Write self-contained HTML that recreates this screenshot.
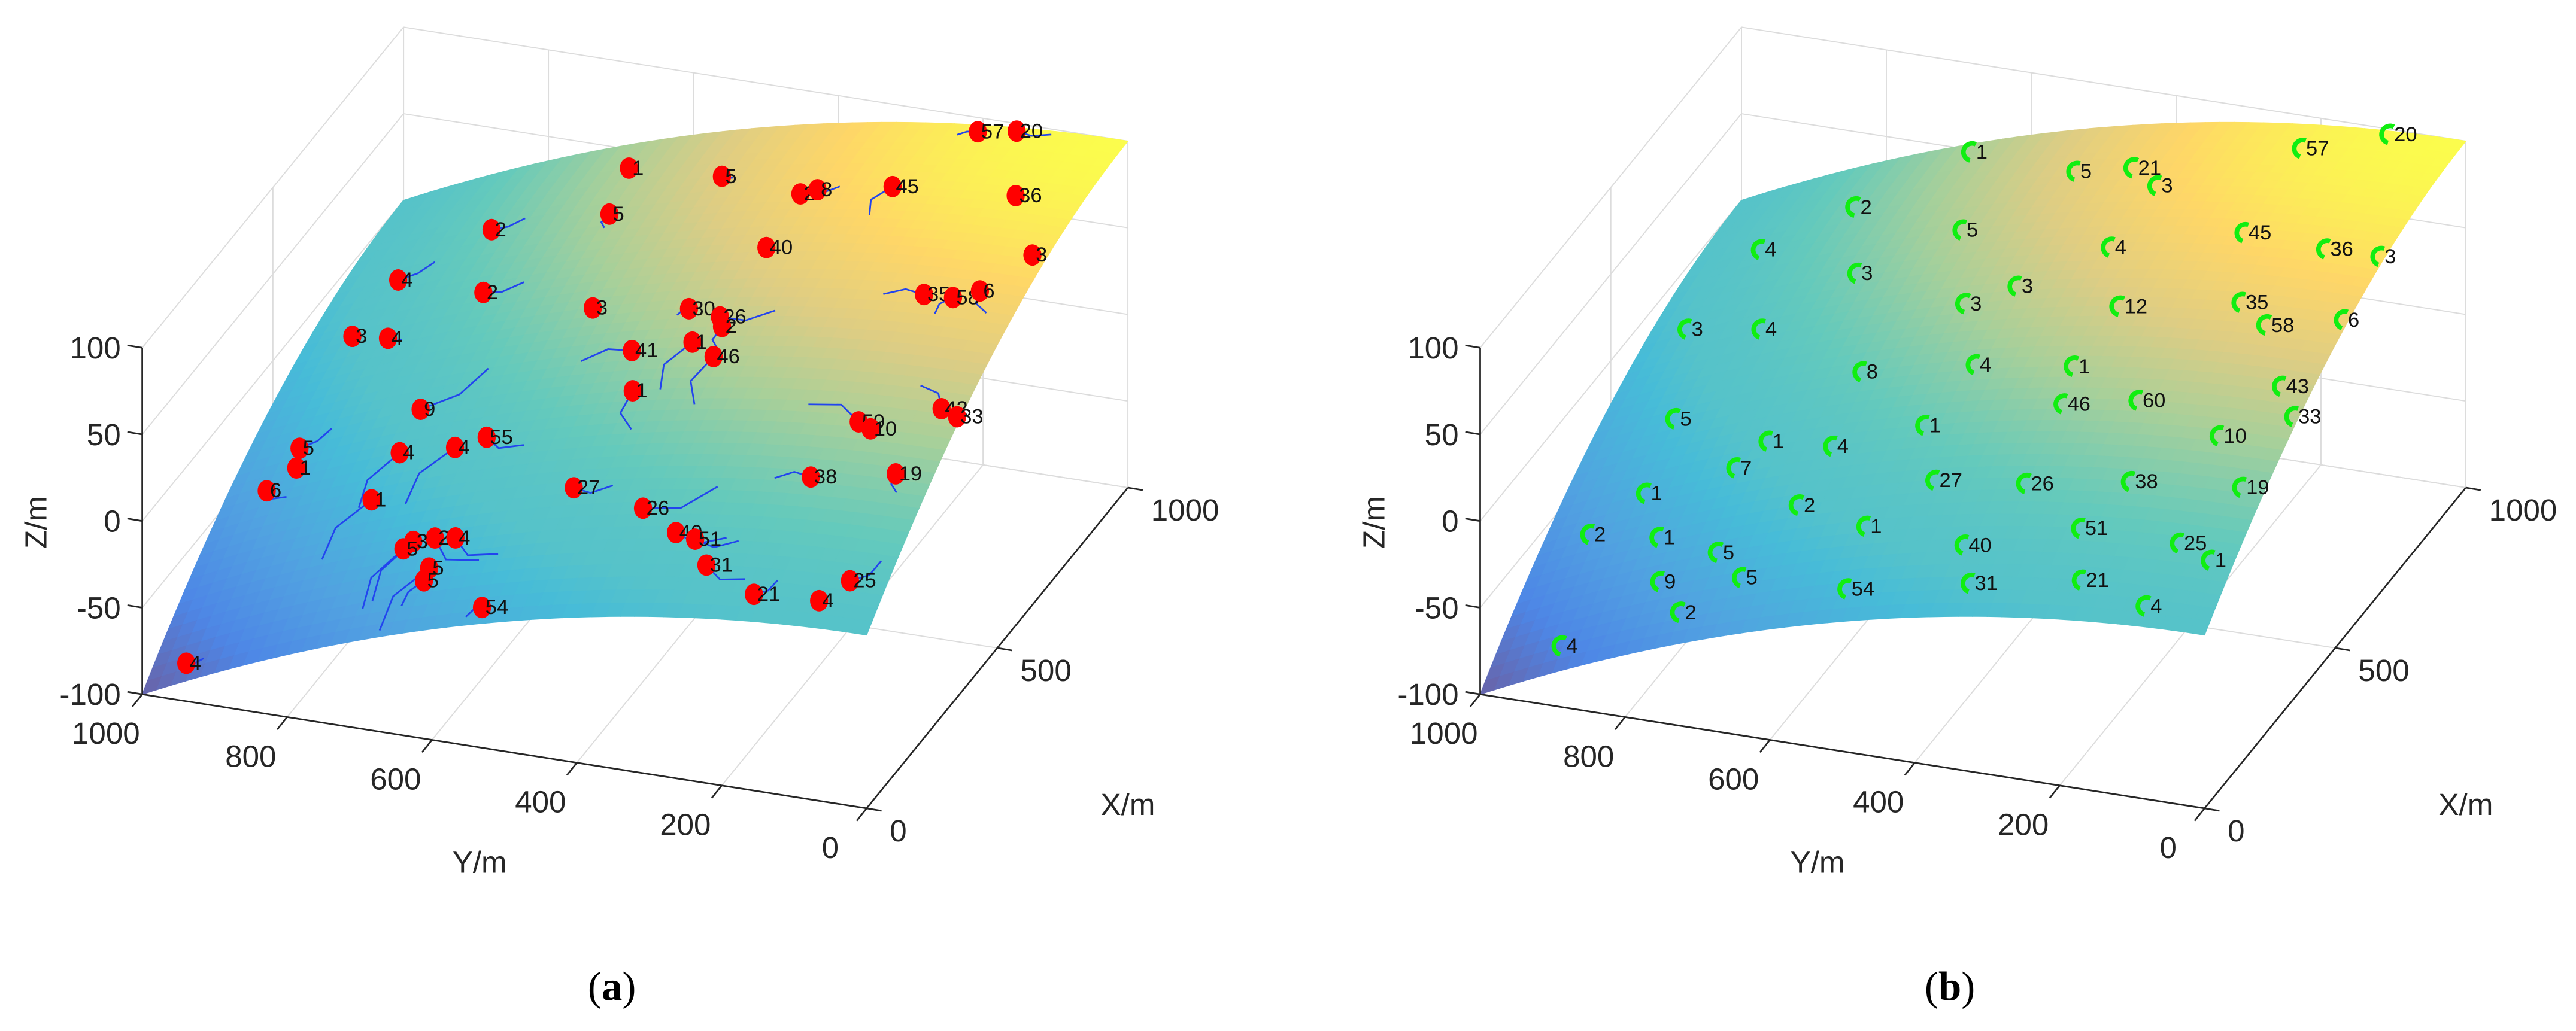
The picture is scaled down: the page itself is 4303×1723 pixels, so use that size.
<!DOCTYPE html>
<html><head><meta charset="utf-8">
<style>
html,body{margin:0;padding:0;background:#fff;overflow:hidden;width:4303px;height:1723px;}
svg{display:block;}
text{font-family:"Liberation Sans",Arial,sans-serif;}
</style></head>
<body>
<svg id="fig" xmlns="http://www.w3.org/2000/svg" width="4303" height="1723" viewBox="2 2 1557.6 623.7">
<rect x="0" y="0" width="1600" height="700" fill="#fff"/>
<g id="panelA"></g>
<g id="panelB"></g>
<text x="372" y="607" text-anchor="middle" font-size="25" style="font-family:'Liberation Serif',serif">(<tspan font-weight="bold">a</tspan>)</text>
<text x="1181" y="607" text-anchor="middle" font-size="25" style="font-family:'Liberation Serif',serif">(<tspan font-weight="bold">b</tspan>)</text>
</svg>
<script>
// axis tick values
const xTicks = [0, 500, 1000];
const yTicks = [0, 200, 400, 600, 800, 1000];
const zTicks = [-100, -50, 0, 50, 100];
// panel (a) node positions (m) and labels
const aX = [920,860,800,810,820,980,990,820,810,790,670,690,730,640,560,540,520,500,580,580,600,610,580,460,470,440,380,400,380,340,310,320,310,320,330,320,370,360,240,210,230,250,150,150,140,145,170,130,120,100,80,80,40,75,40,25,30];
const aY = [660,510,380,360,260,200,150,90,810,640,380,20,910,760,580,440,390,380,130,90,60,930,870,490,410,370,460,760,920,910,940,760,680,640,130,110,30,5,770,480,160,50,650,680,690,620,370,310,280,640,640,250,170,50,80,540,950];
const aLabels = ["1","5","2","8","45","57","20","36","2","5","40","3","4","2","3","30","26","2","35","58","6","3","4","41","1","46","1","9","5","1","6","4","4","55","59","10","42","33","1","27","38","19","2","3","5","4","26","40","51","5","5","31","21","25","4","54","4"];
// trajectory offsets (m) for panel (a)
const aTailDX = [0,-10,30,0,-120,-20,0,-40,20,-60,0,0,40,10,0,-20,20,-80,-10,-60,-70,0,-20,-20,-150,-150,-120,100,40,0,-40,-150,-150,-40,40,-20,60,0,-150,0,-10,-50,-80,-150,-150,-60,60,-10,0,-150,-60,-30,40,60,0,-20,0];
const aTailDY = [0,-30,-80,0,10,40,-80,-10,-70,-10,0,0,-70,-90,0,20,-120,-20,90,20,-40,0,-40,110,20,-10,-40,-120,-60,0,-60,40,60,-100,130,-10,70,0,60,-90,80,-20,-130,40,40,-120,-150,-120,-100,60,30,-100,-40,-50,0,30,-40];
// panel (b) node positions (m) and labels
const bX = [970,870,870,820,930,990,860,740,670,710,690,800,670,560,590,540,560,520,550,690,630,580,440,430,420,350,360,410,420,330,290,300,320,310,360,280,200,220,210,220,230,230,190,140,150,110,140,130,110,110,90,50,50,60,30,50,40];
const bY = [670,490,410,360,200,100,790,600,370,200,80,900,720,530,470,310,150,100,5,5,940,820,630,470,330,320,220,40,880,720,750,620,500,90,5,870,630,450,320,180,30,930,820,720,520,370,220,80,30,790,670,510,340,190,90,740,900];
const bLabels = ["1","5","21","3","57","20","2","5","4","45","36","4","3","3","3","12","35","58","6","3","3","4","8","4","1","46","60","43","5","1","7","4","1","10","33","1","2","27","26","38","19","2","1","5","1","40","51","25","1","9","5","54","31","21","4","2","4"];

const NS = "http://www.w3.org/2000/svg";
const O = [526, 491], EX = [158, -194], EY = [-438, -69], EZ = [0, -209.6];
const TAIL_SCALE = 0.6;
function surfZ(x, y) { const u = x / 1000, v = y / 1000; return 100 * (1 - (1 - u) * (1 - u)) - 100 * v * v; }
function proj(x, y, z, dx) {
  const u = x / 1000, v = y / 1000, w = (z + 100) / 200;
  return [O[0] + dx + u * EX[0] + v * EY[0] + w * EZ[0], O[1] + u * EX[1] + v * EY[1] + w * EZ[1]];
}
const parula = [[53,42,135],[15,92,221],[20,129,214],[6,164,202],[46,183,164],[135,191,119],[209,187,89],[254,200,50],[249,251,14]];
function zToT(z) {
  if (z <= 0) return 0.44 + 0.44 * z / 100;
  return 0.44 + 0.56 * Math.pow(z / 100, 1.7);
}
function cmap(t) {
  t = Math.max(0, Math.min(1, t)) * 8; const i = Math.min(7, Math.floor(t)), f = t - i;
  const c = parula[i].map((a, k) => a + (parula[i + 1][k] - a) * f);
  const m = 0.26; return "rgb(" + c.map(a => Math.round(a * (1 - m) + 255 * m)).join(",") + ")";
}
function mk(tag, attrs, parent) { const e = document.createElementNS(NS, tag); for (const k in attrs) e.setAttribute(k, attrs[k]); parent.appendChild(e); return e; }
function line(p, q, stroke, sw, parent, name) {
  const e = mk("line", {x1: p[0], y1: p[1], x2: q[0], y2: q[1], stroke: stroke, "stroke-width": sw}, parent);
  
  
  return e;
}
function txt(s, x, y, size, anchor, parent, name, extra) {
  const e = mk("text", {x: x, y: y, "font-size": size, "text-anchor": anchor, fill: "#262626"}, parent);
  if (extra) for (const k in extra) e.setAttribute(k, extra[k]);
  e.textContent = s;
  
  
  return e;
}

function drawPanel(g, dx, which) {
  const grid = "#dcdcdc";
  yTicks.forEach(y => line(proj(0, y, -100, dx), proj(1000, y, -100, dx), grid, 0.7, g, "floor-grid-y"));
  xTicks.forEach(x => line(proj(x, 0, -100, dx), proj(x, 1000, -100, dx), grid, 0.7, g, "floor-grid-x"));
  yTicks.forEach(y => line(proj(1000, y, -100, dx), proj(1000, y, 100, dx), grid, 0.7, g, "wall-grid-y"));
  zTicks.forEach(z => line(proj(1000, 0, z, dx), proj(1000, 1000, z, dx), grid, 0.7, g, "wall-grid-z"));
  xTicks.forEach(x => line(proj(x, 1000, -100, dx), proj(x, 1000, 100, dx), grid, 0.7, g, "side-grid-x"));
  zTicks.forEach(z => line(proj(0, 1000, z, dx), proj(1000, 1000, z, dx), grid, 0.7, g, "side-grid-z"));

  const sg = mk("g", {}, g);
  
  
  const N = 50;
  for (let i = N - 1; i >= 0; i--) {
    for (let j = N - 1; j >= 0; j--) {
      const x0 = i * 1000 / N, x1 = (i + 1) * 1000 / N, y0 = j * 1000 / N, y1 = (j + 1) * 1000 / N;
      const pts = [[x0, y0], [x1, y0], [x1, y1], [x0, y1]].map(p => proj(p[0], p[1], surfZ(p[0], p[1]), dx));
      const zc = surfZ((x0 + x1) / 2, (y0 + y1) / 2);
      const col = cmap(zToT(zc));
      const poly = mk("polygon", {points: pts.map(p => p[0].toFixed(2) + "," + p[1].toFixed(2)).join(" "), fill: col, stroke: col, "stroke-width": 0.5}, sg);
      
      
    }
  }

  const ax = "#262626";
  line(proj(0, 1000, -100, dx), proj(0, 1000, 100, dx), ax, 1, g, "z-axis-line");
  line(proj(0, 0, -100, dx), proj(0, 1000, -100, dx), ax, 1, g, "y-axis-line");
  line(proj(0, 0, -100, dx), proj(1000, 0, -100, dx), ax, 1, g, "x-axis-line");
  zTicks.forEach(z => {
    const p = proj(0, 1000, z, dx);
    line(p, [p[0] - 9, p[1] - 1.5], ax, 1, g, "z-tick");
    txt(String(z), p[0] - 13, p[1] + 6.5, 18.5, "end", g, "z-tick-label");
  });
  yTicks.forEach(y => {
    const p = proj(0, y, -100, dx);
    line(p, [p[0] - 6, p[1] + 7.5], ax, 1, g, "y-tick");
    txt(String(y), p[0] - 22, p[1] + 30, 18.5, "middle", g, "y-tick-label");
  });
  xTicks.forEach(x => {
    const p = proj(x, 0, -100, dx);
    line(p, [p[0] + 9, p[1] + 1.5], ax, 1, g, "x-tick");
    txt(String(x), p[0] + 14, p[1] + 20, 18.5, "start", g, "x-tick-label");
  });
  txt("Y/m", 292 + dx, 530, 18.5, "middle", g, "y-axis-title");
  txt("X/m", 684 + dx, 495, 18.5, "middle", g, "x-axis-title");
  txt("Z/m", 0, 0, 18.5, "middle", g, "z-axis-title", {transform: "translate(" + (30 + dx) + ",318) rotate(-90)"});

  if (which === "a") {
    for (let k = 0; k < aX.length; k++) {
      const x = aX[k], y = aY[k];
      const tx = Math.max(0, Math.min(1000, x + aTailDX[k] * TAIL_SCALE)), ty = Math.max(0, Math.min(1000, y + aTailDY[k] * TAIL_SCALE));
      if (tx !== x || ty !== y) {
        const mx = (x + tx) / 2 + (ty - y) * 0.2, my = (y + ty) / 2 - (tx - x) * 0.2;
        const pp = [[x, y], [mx, my], [tx, ty]].map(p => proj(p[0], p[1], surfZ(p[0], p[1]), dx));
        const pl = mk("polyline", {points: pp.map(p => p[0].toFixed(1) + "," + p[1].toFixed(1)).join(" "), fill: "none", stroke: "#2244ee", "stroke-width": 1}, g);
        
        
      }
    }
    for (let k = 0; k < aX.length; k++) {
      const p = proj(aX[k], aY[k], surfZ(aX[k], aY[k]), dx);
      const c = mk("ellipse", {cx: p[0], cy: p[1], rx: 5.5, ry: 6.5, fill: "#ff0000"}, g);
      
      
      txt(aLabels[k], p[0] + 2, p[1] + 4, 12.5, "start", g, "node-label", {fill: "#111"});
    }
  } else {
    for (let k = 0; k < bX.length; k++) {
      const p = proj(bX[k], bY[k], surfZ(bX[k], bY[k]), dx);
      const r = 5.2;
      const d = "M" + (p[0] + r * Math.cos(-1.2)).toFixed(1) + "," + (p[1] + r * Math.sin(-1.2)).toFixed(1) +
        " A" + r + "," + r + " 0 1 0 " + (p[0] + r * Math.cos(1.9)).toFixed(1) + "," + (p[1] + r * Math.sin(1.9)).toFixed(1);
      const a = mk("path", {d: d, fill: "none", stroke: "#11ee11", "stroke-width": 2.8}, g);
      
      
      txt(bLabels[k], p[0] + 2, p[1] + 4, 12.5, "start", g, "node-label", {fill: "#111"});
    }
  }
}
drawPanel(document.getElementById("panelA"), 0, "a");
drawPanel(document.getElementById("panelB"), 809, "b");
</script>
</body></html>
